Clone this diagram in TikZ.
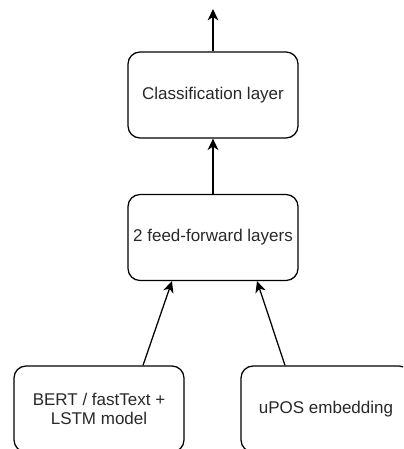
\documentclass[tikz,border=0pt]{standalone}
\usepackage{fontspec}
\setmainfont{Liberation Sans}
\usetikzlibrary{arrows.meta,calc}

\definecolor{txtgray}{RGB}{40,40,40}

\begin{document}
\begin{tikzpicture}[x=0.75pt,y=-0.75pt,
	layer/.style={shape=rectangle,draw=black,rounded corners=9pt,line width=0.95pt,
		minimum width=127.5pt,minimum height=64.5pt,align=center,text=txtgray,
		font=\fontsize{12.75}{14.5}\selectfont},
	flow/.style={-{Stealth[length=8.5pt,width=8pt,inset=2.5pt]},line width=0.95pt}]
	\useasboundingbox (0,0) rectangle (403,449);
	\clip (0,0) rectangle (403,449);

	\node[layer] (cls)  at (213, 95)  {Classification layer};
	\node[layer] (ff)   at (213, 237.5) {2 feed-forward layers};
	\node[layer] (bert) at (99, 409)  {BERT / fastText +\\LSTM model};
	\node[layer] (upos) at (326, 409) {uPOS embedding};
	\coordinate (out) at (213, 9);

	\draw[flow] (cls.north) -- (out);
	\draw[flow] (ff.north) -- (cls.south);
	\draw[flow] ($(bert.north)+(44,0)$) -- ($(ff.south)+(-41,0)$);
	\draw[flow] ($(upos.north)+(-41,0)$) -- ($(ff.south)+(44,0)$);

\end{tikzpicture}
\end{document}
